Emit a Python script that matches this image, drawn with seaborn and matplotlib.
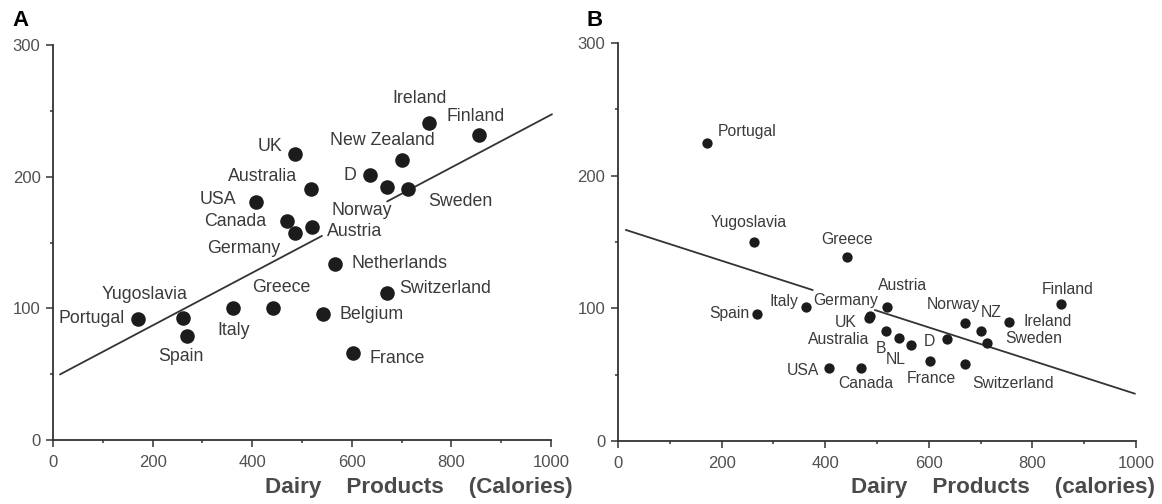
import matplotlib
matplotlib.use("Agg")
import matplotlib.pyplot as plt
import seaborn as sns
import pandas as pd
import numpy as np

# ---------------- data ----------------
countries = ["Portugal", "Yugoslavia", "Spain", "Italy", "Greece", "USA", "Canada",
             "UK", "Germany", "Australia", "Austria", "Belgium", "Netherlands",
             "France", "D", "Norway", "Switzerland", "New Zealand", "Sweden",
             "Ireland", "Finland"]
dairy_cal = [171, 262, 269, 362, 442, 408, 470, 485, 486, 518, 520, 542, 566,
             602, 636, 670, 670, 700, 712, 755, 855]
panel_a_y = [92, 93, 79, 100, 100, 181, 166, 217, 157, 191, 162, 96, 134,
             66, 201, 192, 112, 213, 191, 241, 232]
panel_b_y = [225, 150, 96, 101, 139, 55, 55, 93, 94, 83, 101, 78, 72,
             60, 77, 89, 58, 83, 74, 90, 103]
labels_a = countries
labels_b = ["Portugal", "Yugoslavia", "Spain", "Italy", "Greece", "USA", "Canada",
            "UK", "Germany", "Australia", "Austria", "B", "NL",
            "France", "D", "Norway", "Switzerland", "NZ", "Sweden",
            "Ireland", "Finland"]
# regression lines (intercept, slope) and drawn x segments
line_a = (47.0, 0.200)
line_a_segments = [(14, 540), (671, 1002)]
line_b = (161.0, -0.1256)
line_b_segments = [(15, 376), (496, 998)]
x_ticks = [0, 200, 400, 600, 800, 1000]
y_ticks = [0, 100, 200, 300]
xlabel_a = "Dairy    Products    (Calories)"
xlabel_b = "Dairy    Products    (calories)"

# ---------------- label layout (pixel offsets: dx right, dy down; ha) ----------------
offs_a = {
    "Portugal": (-13, 0, "right"), "Yugoslavia": (-39, -23, "center"),
    "Spain": (-6, 21, "center"), "Italy": (0, 22, "center"),
    "Greece": (8, -21, "center"), "USA": (-20, -2, "right"),
    "Canada": (-21, 0, "right"), "UK": (-12, -8, "right"),
    "Germany": (-15, 15, "right"), "Australia": (-14, -12, "right"),
    "Austria": (15, 5, "left"), "Belgium": (17, 1, "left"),
    "Netherlands": (17, 0, "left"), "France": (17, 5, "left"),
    "D": (-13, 0, "right"), "Norway": (-25, 23, "center"),
    "Switzerland": (13, -4, "left"), "New Zealand": (-19, -19, "center"),
    "Sweden": (21, 13, "left"), "Ireland": (-9, -24, "center"),
    "Finland": (-3, -18, "center"),
}
offs_b = {
    "Portugal": (11, -11, "left"), "Yugoslavia": (-5, -19, "center"),
    "Spain": (-8, 0, "right"), "Italy": (-7, -6, "right"),
    "Greece": (0, -17, "center"), "USA": (-10, 2, "right"),
    "Canada": (4, 15, "center"), "UK": (-13, 5, "right"),
    "Germany": (8, -16, "right"), "Australia": (-17, 9, "right"),
    "Austria": (15, -22, "center"), "B": (-18, 11, "center"),
    "NL": (-15, 14, "center"), "France": (2, 17, "center"),
    "D": (-12, 3, "right"), "Norway": (-12, -18, "center"),
    "Switzerland": (7, 19, "left"), "NZ": (11, -18, "center"),
    "Sweden": (18, -4, "left"), "Ireland": (14, 0, "left"),
    "Finland": (7, -15, "center"),
}

# ---------------- style ----------------
sns.set_theme(style="ticks")
plt.rcParams["font.family"] = ["Liberation Sans", "DejaVu Sans"]
INK = "#3a3a3a"
DOT = "#1c1c1c"

W, H = 1162, 504
fig = plt.figure(figsize=(W / 100, H / 100), dpi=100)
fig.patch.set_facecolor("white")

def px_axes(x0, x1, y_top, y_bot):
    return fig.add_axes([x0 / W, 1 - y_bot / H, (x1 - x0) / W, (y_bot - y_top) / H])

ax_a = px_axes(53, 551, 45, 440)
ax_b = px_axes(618, 1136, 43, 441)


def draw_panel(ax, yvals, labels, offs, line, segments, msize, fsize, xlabel, xlab_pos):
    df = pd.DataFrame({"x": dairy_cal, "y": yvals, "label": labels})
    # regression line segments
    rows = []
    for i, (a, b) in enumerate(segments):
        for xv in (a, b):
            rows.append({"x": xv, "y": line[0] + line[1] * xv, "seg": i})
    ldf = pd.DataFrame(rows)
    sns.lineplot(data=ldf, x="x", y="y", units="seg", estimator=None, ax=ax,
                 color="#333333", linewidth=1.3, clip_on=False, legend=False)
    sns.scatterplot(data=df, x="x", y="y", ax=ax, s=msize, color=DOT,
                    edgecolor=DOT, linewidth=0, clip_on=False, legend=False, zorder=3)
    for _, r in df.iterrows():
        dx, dy, ha = offs[r["label"]]
        ax.annotate(r["label"], (r["x"], r["y"]), xytext=(dx, -dy),
                    textcoords="offset pixels", ha=ha, va="center",
                    fontsize=fsize, color=INK)
    ax.set_xlim(0, 1000)
    ax.set_ylim(0, 300)
    ax.set_xticks(x_ticks)
    ax.set_yticks(y_ticks)
    ax.set_xticks([100, 300, 500, 700, 900], minor=True)
    ax.set_yticks([50, 150, 250], minor=True)
    ax.tick_params(axis="both", which="major", length=5, width=1.1, color="#333333",
                   labelsize=12, labelcolor="#505050", direction="out")
    ax.tick_params(axis="x", which="major", pad=6)
    ax.tick_params(axis="y", which="major", pad=4)
    ax.tick_params(axis="both", which="minor", length=2.5, width=1.1, color="#333333",
                   direction="out")
    for s in ("top", "right"):
        ax.spines[s].set_visible(False)
    for s in ("left", "bottom"):
        ax.spines[s].set_linewidth(1.3)
        ax.spines[s].set_color("#333333")
    ax.set_facecolor("white")
    ax.set_ylabel("")
    ax.set_xlabel(xlabel, fontsize=16.2, fontweight="bold", color="#4a4a4a",
                  ha="right", va="center")
    ax.xaxis.set_label_coords(*xlab_pos)


draw_panel(ax_a, panel_a_y, labels_a, offs_a, line_a, line_a_segments,
           msize=110, fsize=12.8, xlabel=xlabel_a, xlab_pos=(1.044, -0.119))
draw_panel(ax_b, panel_b_y, labels_b, offs_b, line_b, line_b_segments,
           msize=55, fsize=11.3, xlabel=xlabel_b, xlab_pos=(1.037, -0.116))

fig.text(12 / W, 1 - 20 / H, "A", fontsize=16, fontweight="bold", color="black",
         ha="left", va="center")
fig.text(587 / W, 1 - 20 / H, "B", fontsize=16, fontweight="bold", color="black",
         ha="left", va="center")

fig.savefig("out.png", dpi=100, facecolor="white")
